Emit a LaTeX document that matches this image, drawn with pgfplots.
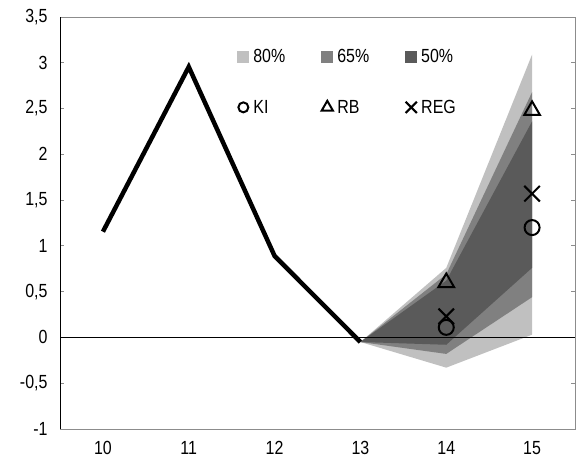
\documentclass[border=0pt]{standalone}
\usepackage{fontspec}
\setmainfont{Liberation Sans}[FakeStretch=0.84]
\usepackage{pgfplots}
\pgfplotsset{compat=1.18}

\definecolor{band80}{HTML}{C0C0C0}
\definecolor{band65}{HTML}{808080}
\definecolor{band50}{HTML}{5A5A5A}
\definecolor{framegray}{HTML}{8C8C8C}

\newcommand{\chartfont}{\fontsize{19bp}{22bp}\selectfont}

\begin{document}
\begin{tikzpicture}
\begin{axis}[
  name=ax,
  scale only axis,
  width=515bp, height=412bp,
  xmin=9.5, xmax=15.5,
  ymin=-1, ymax=3.5,
  xtick={10,11,12,13,14,15},
  ytick={-1,-0.5,0,0.5,1,1.5,2,2.5,3,3.5},
  /pgf/number format/.cd, use comma, fixed, assume math mode=true,
  /pgfplots/.cd,
  tick label style={font=\chartfont},
  xtick style={draw=none},
  ytick style={draw=framegray, line width=0.8bp},
  tick align=inside,
  major tick length=4bp,
  axis line style={draw=framegray, line width=0.8bp},
  yticklabel style={xshift=-9bp},
  xticklabel style={yshift=-9bp},
  legend columns=3,
  legend style={draw=none, fill=none, at={(0.344,0.932)}, anchor=north west,
    font=\chartfont, inner sep=0pt, row sep=28bp,
    nodes={inner sep=4bp},
    /tikz/every even column/.append style={column sep=32bp}},
  legend cell align=left,
]
% projection fan, widest band first
\pgfplotsset{fanlegend/.style={legend image code/.code={\fill[##1] (0bp,-6bp) rectangle (12bp,6bp);}}}
\pgfplotsset{marklegend/.style={legend image code/.code={\draw[##1, mark size=#1] plot coordinates {(6bp,0bp)};}}}

\addplot[fill=band80, draw=none, fanlegend] coordinates {
  (13,-0.05) (14,0.76) (15,3.09) (15,0.03) (14,-0.33)} -- cycle;
\addlegendentry{80\%}
\addplot[fill=band65, draw=none, fanlegend] coordinates {
  (13,-0.05) (14,0.69) (15,2.68) (15,0.44) (14,-0.18)} -- cycle;
\addlegendentry{65\%}
\addplot[fill=band50, draw=none, fanlegend] coordinates {
  (13,-0.05) (14,0.62) (15,2.36) (15,0.76) (14,-0.08)} -- cycle;
\addlegendentry{50\%}

% zero line with category separators
\draw[black, line width=1bp] (axis cs:9.5,0) -- (axis cs:15.5,0);
\pgfplotsinvokeforeach{10.5,11.5,12.5,13.5,14.5}{
  \draw[framegray!70!black, line width=0.8bp] (axis cs:#1,0) ++(0,-5bp) -- ++(0,10bp);
}
\draw[black, line width=1bp] (rel axis cs:0,0) -- (rel axis cs:0,1);

% observed series
\addplot[black, line width=4.5bp, forget plot] coordinates {
  (10,1.155) (11,2.955) (12,0.89) (13,-0.05)};

% point forecasts
\addplot[only marks, mark=o, mark size=7.5bp, line width=2bp, black, marklegend=5bp]
  coordinates {(14,0.11) (15,1.2)};
\addlegendentry{KI}
\addplot[only marks, mark=triangle, mark size=9bp, line width=2bp, black, marklegend=6.5bp]
  coordinates {(14,0.6) (15,2.48)};
\addlegendentry{RB}
\addplot[only marks, mark=x, mark size=11bp, line width=2bp, black, marklegend=8bp]
  coordinates {(14,0.23) (15,1.57)};
\addlegendentry{REG}
\end{axis}
\pgfresetboundingbox
\path ([shift={(-60bp,-30bp)}]ax.south west) rectangle ([shift={(3bp,17bp)}]ax.north east);
\end{tikzpicture}
\end{document}
